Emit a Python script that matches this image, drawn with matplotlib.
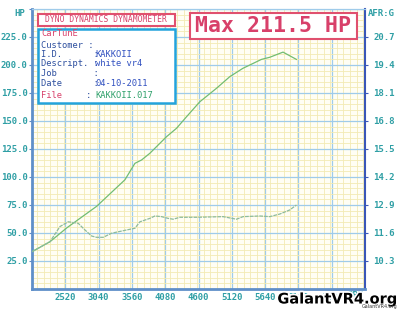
import matplotlib
matplotlib.use("Agg")
import matplotlib.pyplot as plt
import matplotlib.patheffects as pe
from matplotlib.patches import Rectangle
from matplotlib.ticker import MultipleLocator, FixedLocator

# ---- data ----
power_rpm = [2000, 2281, 2541, 3009, 3451, 3607, 3711, 3841, 4101, 4257, 4413,
             4621, 4881, 5089, 5292, 5583, 5713, 5920, 6129]
power_hp = [33.3, 42.2, 54.5, 73.8, 97.5, 112.2, 115.2, 121.2, 136.0, 143.5, 153.8,
            167.2, 179.2, 189.6, 197.0, 205.0, 206.9, 211.5, 205.0]

afr_rpm = [2000, 2281, 2437, 2566, 2722, 2827, 2931, 3009, 3112, 3243, 3477, 3607,
           3685, 3841, 3919, 4023, 4126, 4204, 4309, 4569, 4984, 5193, 5296, 5557,
           5713, 5869, 6025, 6129]
afr_val = [10.73, 11.2, 11.9, 12.12, 12.05, 11.74, 11.46, 11.4, 11.4, 11.59, 11.74, 11.82,
           12.12, 12.28, 12.39, 12.36, 12.28, 12.24, 12.33, 12.33, 12.36, 12.24, 12.36, 12.39,
           12.36, 12.48, 12.67, 12.9]

hp_ticks = [25, 50, 75, 100, 125, 150, 175, 200, 225]
hp_labels = ["25.0", "50.0", "75.0", "100.0", "125.0", "150.0", "175.0", "200.0", "225.0"]
afr_ticks = [10.3, 11.6, 12.9, 14.2, 15.5, 16.8, 18.1, 19.4, 20.7]
afr_labels = ["10.3", "11.6", "12.9", "14.2", "15.5", "16.8", "18.1", "19.4", "20.7"]
rpm_ticks = [2520, 3040, 3560, 4080, 4600, 5120, 5640, 6160, 6680]
rpm_labels = ["2520", "3040", "3560", "4080", "4600", "5120", "5640", "6160", "6680"]

info_labels = ["Customer :", "I.D.      :", "Descript. :", "Job       :", "Date      :"]
info_values = ["", "KAKKOII", "white vr4", "", "04-10-2011"]
max_hp_text = "Max 211.5 HP"

# ---- style ----
tick_col = "#2f9fa5"
mono = "DejaVu Sans Mono"

fig = plt.figure(figsize=(4.0, 3.09), dpi=100)
fig.patch.set_facecolor("white")
W, H = 400, 309
ax = fig.add_axes([32 / W, 20 / H, 333 / W, 280 / H])
ax.set_facecolor("#fffef4")
ax.set_xlim(2000, 7200)
ax.set_ylim(0, 250)

ax.xaxis.set_minor_locator(MultipleLocator(104))
ax.yaxis.set_minor_locator(MultipleLocator(5))
ax.xaxis.set_major_locator(FixedLocator(rpm_ticks + [7200]))
ax.yaxis.set_major_locator(FixedLocator(hp_ticks + [250]))
ax.set_xticklabels(rpm_labels + [""])
ax.set_yticklabels(hp_labels + [""])
ax.grid(which="minor", color="#f3eab4", lw=0.6)
ax.grid(which="major", color="#9fcbea", lw=0.9)
ax.set_axisbelow(True)

for lab in ax.get_xticklabels() + ax.get_yticklabels():
    lab.set_fontfamily(mono)
    lab.set_fontweight("bold")
    lab.set_fontsize(6.5)
    lab.set_color(tick_col)
ax.tick_params(axis="x", which="both", length=0, pad=3)
ax.tick_params(axis="y", which="major", length=2, color="#5a8ac8", pad=1)
ax.tick_params(axis="y", which="minor", length=0)

ax.spines["left"].set_color("#5f8fc9")
ax.spines["left"].set_linewidth(2)
ax.spines["bottom"].set_color("#5f8fc9")
ax.spines["bottom"].set_linewidth(2)
ax.spines["top"].set_color("#9fcbea")
ax.spines["top"].set_linewidth(0.9)
ax.spines["right"].set_color("#3a56b8")
ax.spines["right"].set_linewidth(1.5)

ax.plot(power_rpm, power_hp, color="#72bd72", lw=0.9, zorder=3)

ax2 = ax.twinx()
ax2.set_ylim(9.0, 22.0)
ax2.set_yticks(afr_ticks)
ax2.set_yticklabels(afr_labels)
for lab in ax2.get_yticklabels():
    lab.set_fontfamily(mono)
    lab.set_fontweight("bold")
    lab.set_fontsize(6.5)
    lab.set_color(tick_col)
ax2.tick_params(axis="y", length=2, color="#3a56b8", pad=4)
for s in ax2.spines.values():
    s.set_visible(False)
ax2.plot(afr_rpm, afr_val, color="#8dbb9c", lw=0.9, ls=(0, (3, 0.8)), zorder=3)

# axis titles
fig.text(25 / W, 1 - 14 / H, "HP", ha="right", va="center", fontfamily=mono,
         fontweight="bold", fontsize=6.5, color=tick_col)
fig.text(368 / W, 1 - 13 / H, "AFR:G", ha="left", va="center", fontfamily=mono,
         fontweight="bold", fontsize=6.5, color=tick_col)
fig.text(363 / W, 1 - 295 / H, "RPM", ha="right", va="center", fontfamily=mono,
         fontweight="bold", fontsize=6.5, color=tick_col)

# header box
fig.patches.append(Rectangle((38 / W, 1 - 26 / H), 137 / W, 12 / H, transform=fig.transFigure,
                             facecolor="white", edgecolor="#e0506e", lw=1.5, zorder=5))
fig.text(106 / W, 1 - 20 / H, "DYNO DYNAMICS DYNAMOMETER", ha="center", va="center",
         fontfamily=mono, fontsize=5.8, color="#d8406a", zorder=6)

# info box
fig.patches.append(Rectangle((38 / W, 1 - 103 / H), 137 / W, 74 / H, transform=fig.transFigure,
                             facecolor="white", edgecolor="#22a3dc", lw=1.8, zorder=5))
fig.text(41 / W, 1 - 34 / H, "CarTunE", ha="left", va="center", fontfamily=mono,
         fontsize=6.3, color="#d8406a", zorder=6)
ys = [45, 54.5, 64, 73.5, 83]
for y, l, v in zip(ys, info_labels, info_values):
    fig.text(41 / W, 1 - y / H, l, ha="left", va="center", fontfamily=mono,
             fontsize=6.3, color="#2c4e9e", zorder=6)
    fig.text(95 / W, 1 - y / H, v, ha="left", va="center", fontfamily=mono,
             fontsize=6.3, color="#3050c0", zorder=6)
fig.text(41 / W, 1 - 95 / H, "File", ha="left", va="center", fontfamily=mono,
         fontsize=6.3, color="#d8406a", zorder=6)
fig.text(86 / W, 1 - 95 / H, ":", ha="left", va="center", fontfamily=mono,
         fontsize=6.3, color="#2c4e9e", zorder=6)
fig.text(95 / W, 1 - 95 / H, "KAKKOII.017", ha="left", va="center", fontfamily=mono,
         fontsize=6.3, color="#2ea06a", zorder=6)

# max box
fig.patches.append(Rectangle((190 / W, 1 - 39 / H), 167 / W, 26 / H, transform=fig.transFigure,
                             facecolor="white", edgecolor="#e0506e", lw=1.5, zorder=5))
fig.text(273 / W, 1 - 26.5 / H, max_hp_text, ha="center", va="center", fontfamily=mono,
         fontweight="bold", fontsize=15.5, color="#d8406a", zorder=6)

# watermark
fig.text(398 / W, 1 - 299 / H, "GalantVR4.org", ha="right", va="center",
         fontfamily="DejaVu Sans", fontweight="bold", fontsize=10.5, color="black", zorder=7,
         path_effects=[pe.withStroke(linewidth=2.5, foreground="white")])
fig.text(398 / W, 1 - 306.5 / H, "GalantVR4.org", ha="right", va="center",
         fontfamily="DejaVu Sans", fontsize=3.5, color="#333333", zorder=7)

fig.savefig("out.png", dpi=100)
